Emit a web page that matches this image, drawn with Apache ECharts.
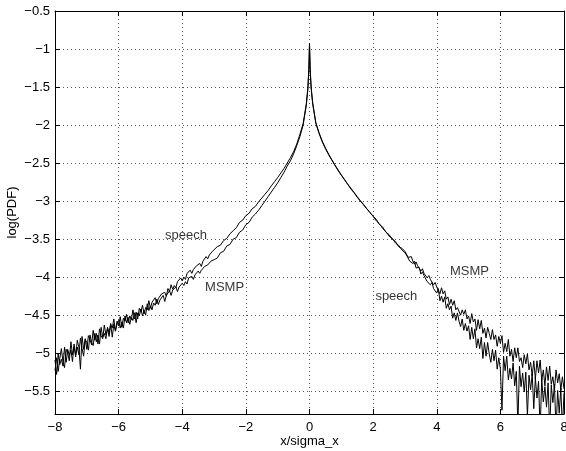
<!DOCTYPE html>
<html><head><meta charset="utf-8">
<script src="https://cdn.jsdelivr.net/npm/echarts@6/dist/echarts.min.js"></script>
<style>html,body{margin:0;padding:0;background:#fff}#c{width:566px;height:451px}</style>
</head><body><div id="c"></div><script>
const xGrid = [
-8,-7.95,-7.9,-7.85,-7.8,-7.75,-7.7,-7.65,-7.6,-7.55,
-7.5,-7.45,-7.4,-7.35,-7.3,-7.25,-7.2,-7.15,-7.1,-7.05,
-7,-6.95,-6.9,-6.85,-6.8,-6.75,-6.7,-6.65,-6.6,-6.55,
-6.5,-6.45,-6.4,-6.35,-6.3,-6.25,-6.2,-6.15,-6.1,-6.05,
-6,-5.95,-5.9,-5.85,-5.8,-5.75,-5.7,-5.65,-5.6,-5.55,
-5.5,-5.45,-5.4,-5.35,-5.3,-5.25,-5.2,-5.15,-5.1,-5.05,
-5,-4.95,-4.9,-4.85,-4.8,-4.75,-4.7,-4.65,-4.6,-4.55,
-4.5,-4.45,-4.4,-4.35,-4.3,-4.25,-4.2,-4.15,-4.1,-4.05,
-4,-3.95,-3.9,-3.85,-3.8,-3.75,-3.7,-3.65,-3.6,-3.55,
-3.5,-3.45,-3.4,-3.35,-3.3,-3.25,-3.2,-3.15,-3.1,-3.05,
-3,-2.9,-2.8,-2.7,-2.6,-2.5,-2.4,-2.3,-2.2,-2.1,
-2,-1.9,-1.8,-1.7,-1.6,-1.5,-1.4,-1.3,-1.2,-1.1,
-1,-0.9,-0.8,-0.7,-0.6,-0.5,-0.4,-0.3,-0.2,-0.1,
-0.05,-0.02,0,0.02,0.05,
0.1,0.2,0.3,0.4,0.5,0.6,0.7,0.8,0.9,1,
1.1,1.2,1.3,1.4,1.5,1.6,1.7,1.8,1.9,2,
2.1,2.2,2.3,2.4,2.5,2.6,2.7,2.8,2.9,3,
3.05,3.1,3.15,3.2,3.25,3.3,3.35,3.4,3.45,3.5,
3.55,3.6,3.65,3.7,3.75,3.8,3.85,3.9,3.95,4,
4.05,4.1,4.15,4.2,4.25,4.3,4.35,4.4,4.45,4.5,
4.55,4.6,4.65,4.7,4.75,4.8,4.85,4.9,4.95,5,
5.05,5.1,5.15,5.2,5.25,5.3,5.35,5.4,5.45,5.5,
5.55,5.6,5.65,5.7,5.75,5.8,5.85,5.9,5.95,6,
6.05,6.1,6.15,6.2,6.25,6.3,6.35,6.4,6.45,6.5,
6.55,6.6,6.65,6.7,6.75,6.8,6.85,6.9,6.95,7,
7.05,7.1,7.15,7.2,7.25,7.3,7.35,7.4,7.45,7.5,
7.55,7.6,7.65,7.7,7.75,7.8,7.85,7.9,7.95,8
];
const speechPDF = [
-5.23,-5.06,-5.24,-5.07,-4.94,-5.11,-5.19,-4.95,-5.00,-5.10,
-4.85,-5.02,-4.91,-5.05,-4.83,-4.92,-5.21,-4.78,-4.95,-4.81,
-4.95,-4.77,-4.82,-4.89,-4.70,-4.83,-4.74,-4.88,-4.68,-4.77,
-4.81,-4.63,-4.76,-4.68,-4.78,-4.62,-4.67,-4.55,-4.71,-4.58,
-4.64,-4.52,-4.66,-4.54,-4.58,-4.49,-4.60,-4.51,-4.56,-4.43,
-4.55,-4.46,-4.55,-4.41,-4.46,-4.37,-4.48,-4.40,-4.43,-4.31,
-4.41,-4.33,-4.35,-4.27,-4.35,-4.28,-4.30,-4.22,-4.24,-4.20,
-4.25,-4.15,-4.19,-4.10,-4.16,-4.11,-4.14,-4.06,-4.08,-4.01,
-4.05,-4.00,-4.03,-3.95,-3.97,-3.91,-3.95,-3.90,-3.91,-3.85,
-3.87,-3.82,-3.86,-3.79,-3.80,-3.73,-3.76,-3.71,-3.71,-3.66,
-3.65,-3.60,-3.58,-3.52,-3.49,-3.43,-3.39,-3.35,-3.28,-3.25,
-3.19,-3.16,-3.10,-3.07,-3.01,-2.96,-2.91,-2.86,-2.80,-2.745,
-2.69,-2.63,-2.57,-2.50,-2.43,-2.35,-2.25,-2.12,-1.98,-1.72,
-1.50,-1.25,-0.93,-1.25,-1.50,
-1.72,-1.98,-2.11,-2.22,-2.31,-2.39,-2.46,-2.53,-2.60,-2.66,
-2.72,-2.78,-2.84,-2.89,-2.95,-3.00,-3.05,-3.10,-3.15,-3.20,
-3.26,-3.30,-3.36,-3.40,-3.46,-3.49,-3.55,-3.58,-3.64,-3.68,
-3.71,-3.70,-3.79,-3.77,-3.82,-3.79,-3.88,-3.87,-3.87,-3.96,
-3.93,-3.98,-3.97,-4.06,-4.04,-4.10,-4.07,-4.15,-4.14,-4.21,
-4.15,-4.31,-4.25,-4.33,-4.26,-4.41,-4.35,-4.43,-4.38,-4.54,
-4.47,-4.57,-4.47,-4.58,-4.65,-4.55,-4.70,-4.61,-4.71,-4.64,
-4.82,-4.66,-4.81,-4.68,-4.93,-4.81,-4.94,-4.79,-5.07,-4.86,
-5.04,-4.86,-5.01,-5.12,-4.95,-5.10,-4.96,-5.21,-5.06,-5.21,
-5.75,-5.04,-5.23,-5.04,-5.35,-5.20,-5.34,-5.13,-5.43,-5.24,
-5.95,-5.17,-5.44,-5.26,-5.51,-5.25,-5.83,-5.29,-5.48,-5.27,
-5.73,-5.32,-5.59,-5.37,-6.02,-5.33,-5.64,-5.44,-5.71,-5.39,
-6.03,-5.42,-5.65,-5.41,-6.02,-5.49,-5.79,-5.46,-6.01,-5.52
];
const msmpPDF = [
-5.09,-5.28,-5.01,-5.15,-5.08,-5.17,-4.92,-5.12,-4.95,-5.03,
-4.96,-5.11,-4.88,-5.02,-4.92,-5.02,-4.80,-4.94,-5.04,-4.82,
-4.86,-4.96,-4.76,-4.86,-4.90,-4.74,-4.85,-4.76,-4.88,-4.66,
-4.79,-4.74,-4.81,-4.66,-4.73,-4.61,-4.79,-4.62,-4.71,-4.62,
-4.57,-4.67,-4.59,-4.67,-4.51,-4.60,-4.53,-4.62,-4.53,-4.57,
-4.47,-4.60,-4.47,-4.51,-4.42,-4.51,-4.44,-4.50,-4.35,-4.44,
-4.38,-4.43,-4.34,-4.37,-4.29,-4.36,-4.30,-4.32,-4.24,-4.32,
-4.24,-4.26,-4.18,-4.24,-4.17,-4.19,-4.13,-4.19,-4.13,-4.14,
-4.08,-4.11,-4.06,-4.09,-4.01,-4.03,-3.99,-4.03,-3.97,-3.98,
-3.92,-3.95,-3.91,-3.92,-3.86,-3.88,-3.84,-3.86,-3.79,-3.80,
-3.77,-3.75,-3.68,-3.66,-3.59,-3.57,-3.50,-3.48,-3.41,-3.38,
-3.31,-3.28,-3.21,-3.17,-3.12,-3.06,-3.00,-2.94,-2.88,-2.82,
-2.76,-2.69,-2.62,-2.54,-2.47,-2.38,-2.27,-2.15,-2.00,-1.74,
-1.52,-1.26,-0.93,-1.25,-1.50,
-1.71,-1.97,-2.10,-2.21,-2.30,-2.38,-2.455,-2.525,-2.59,-2.655,
-2.715,-2.775,-2.83,-2.885,-2.94,-2.995,-3.045,-3.10,-3.15,-3.20,
-3.24,-3.31,-3.34,-3.41,-3.44,-3.50,-3.53,-3.60,-3.62,-3.66,
-3.68,-3.74,-3.73,-3.73,-3.79,-3.83,-3.80,-3.85,-3.85,-3.92,
-3.89,-3.95,-3.95,-4.01,-3.98,-4.03,-4.04,-4.10,-4.07,-4.13,
-4.11,-4.22,-4.14,-4.22,-4.18,-4.29,-4.26,-4.36,-4.29,-4.37,
-4.31,-4.43,-4.40,-4.38,-4.50,-4.43,-4.49,-4.43,-4.55,-4.51,
-4.61,-4.48,-4.59,-4.55,-4.70,-4.56,-4.68,-4.57,-4.74,-4.67,
-4.80,-4.66,-4.74,-4.82,-4.69,-4.82,-4.76,-4.91,-4.78,-4.87,
-4.77,-4.99,-4.87,-4.98,-4.82,-5.04,-4.95,-5.11,-4.93,-5.06,
-4.93,-5.11,-5.06,-5.19,-5.02,-5.14,-5.01,-5.22,-5.12,-5.30,
-5.10,-5.34,-5.10,-5.26,-5.09,-5.36,-5.22,-5.43,-5.18,-5.36,
-5.17,-5.41,-5.31,-5.48,-5.22,-5.39,-5.27,-5.48,-5.31,-5.47
];
const xTicks = [-8,-6,-4,-2,0,2,4,6,8];
const yTicks = [-5.5,-5,-4.5,-4,-3.5,-3,-2.5,-2,-1.5,-1,-0.5];
const annNames = ['speech','MSMP','MSMP','speech'];
const annX = [-3.88,-2.67,5.03,2.73];
const annY = [-3.45,-4.13,-3.92,-4.26];

const FONT = '"Liberation Sans", Arial, Helvetica, sans-serif';
const minus = v => String(v).replace('-', '\u2212');
const dotted = {show:true, lineStyle:{color:'#555', width:1, type:[1,3]}};
const axisLine = {show:true, onZero:false, lineStyle:{color:'#000', width:1}};
const tickIn = {show:true, inside:true, length:5, lineStyle:{color:'#000'}};

const chart = echarts.init(document.getElementById('c'), null, {renderer:'canvas'});
chart.setOption({
  animation:false,
  backgroundColor:'#fff',
  grid:{left:55, right:2, top:11, bottom:37, containLabel:false, outerBoundsMode:'none'},
  xAxis:[
    {type:'value', min:-8, max:8, interval:2, position:'bottom',
     axisLine:axisLine, axisTick:Object.assign({customValues:xTicks}, tickIn), splitLine:dotted,
     axisLabel:{customValues:xTicks, color:'#000', fontSize:13, fontFamily:FONT, margin:7, formatter:minus},
     name:'x/sigma_x', nameLocation:'middle', nameGap:21, nameMoveOverlap:false,
     nameTextStyle:{color:'#000', fontSize:13, fontFamily:FONT}},
    {type:'value', min:-8, max:8, interval:2, position:'top',
     axisLine:axisLine, axisTick:tickIn, splitLine:{show:false}, axisLabel:{show:false}}
  ],
  yAxis:[
    {type:'value', min:-5.8, max:-0.5, position:'left',
     axisLine:axisLine, axisTick:Object.assign({customValues:yTicks}, tickIn), splitLine:dotted,
     axisLabel:{customValues:yTicks, color:'#000', fontSize:13, fontFamily:FONT, margin:5, formatter:minus},
     name:'log(PDF)', nameLocation:'middle', nameGap:36, nameMoveOverlap:false,
     nameTextStyle:{color:'#000', fontSize:13, fontFamily:FONT}},
    {type:'value', min:-5.8, max:-0.5, position:'right',
     axisLine:axisLine, axisTick:Object.assign({customValues:yTicks}, tickIn),
     splitLine:{show:false}, axisLabel:{show:false, customValues:yTicks}}
  ],
  series:[
    {name:'speech', type:'line', showSymbol:false, clip:true,
     lineStyle:{color:'#000', width:1}, data:xGrid.map((x,i)=>[x, speechPDF[i]])},
    {name:'MSMP', type:'line', showSymbol:false, clip:true,
     lineStyle:{color:'#000', width:1}, data:xGrid.map((x,i)=>[x, msmpPDF[i]])},
    {type:'scatter', symbolSize:0, silent:true,
     label:{show:true, position:'inside', color:'#000', fontSize:13, fontFamily:FONT,
            formatter:p=>p.name},
     data:annNames.map((n,i)=>({name:n, value:[annX[i], annY[i]]}))}
  ]
});
</script></body></html>
